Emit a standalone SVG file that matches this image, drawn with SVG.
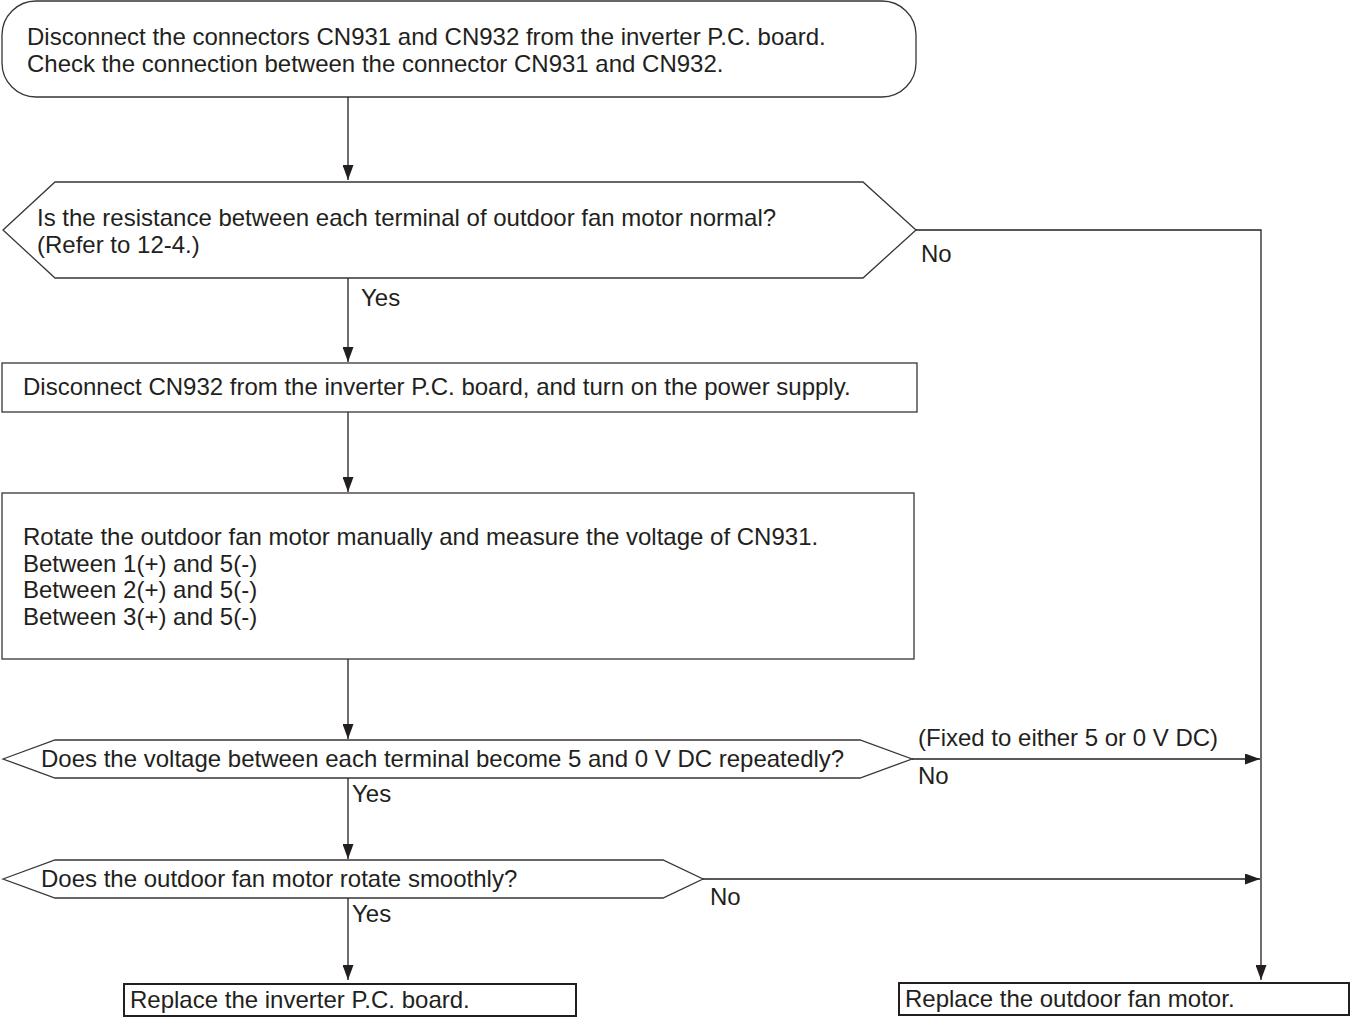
<svg xmlns="http://www.w3.org/2000/svg" width="1362" height="1027" viewBox="0 0 1362 1027">
<style>
  .bg{fill:#ffffff}
  .shape{fill:#ffffff;stroke:#3a3536;stroke-width:1.3}
  .end{fill:#ffffff;stroke:#231f20;stroke-width:2}
  .line{fill:none;stroke:#231f20;stroke-width:1.3}
  text{font-family:"Liberation Sans",Arial,sans-serif;font-size:24px;fill:#231f20}
</style>
<defs>
  <marker id="arr" markerUnits="userSpaceOnUse" markerWidth="15" markerHeight="11" refX="15" refY="5.5" orient="auto">
    <path d="M0,0 L15,5.5 L0,11 Z" fill="#231f20"/>
  </marker>
</defs>
<rect class="bg" x="0" y="0" width="1362" height="1027"/>

<g id="start">
  <rect class="shape" x="2" y="1" width="914" height="96" rx="34" ry="34"/>
  <text x="27" y="45">Disconnect the connectors CN931 and CN932 from the inverter P.C. board.</text>
  <text x="27" y="72">Check the connection between the connector CN931 and CN932.</text>
</g>

<g id="q1">
  <polygon class="shape" points="3,230 55,182 863,182 916,230 863,278 55,278"/>
  <text x="37" y="226">Is the resistance between each terminal of outdoor fan motor normal?</text>
  <text x="37" y="253">(Refer to 12-4.)</text>
</g>

<g id="step2">
  <rect class="shape" x="2" y="363" width="915" height="49"/>
  <text x="23" y="395">Disconnect CN932 from the inverter P.C. board, and turn on the power supply.</text>
</g>

<g id="step3">
  <rect class="shape" x="2" y="493" width="912" height="166"/>
  <text x="23" y="545">Rotate the outdoor fan motor manually and measure the voltage of CN931.</text>
  <text x="23" y="571.5">Between 1(+) and 5(-)</text>
  <text x="23" y="598">Between 2(+) and 5(-)</text>
  <text x="23" y="624.5">Between 3(+) and 5(-)</text>
</g>

<g id="q2">
  <polygon class="shape" points="3,759 55,740 860,740 912,759 860,778 55,778"/>
  <text x="41" y="767">Does the voltage between each terminal become 5 and 0 V DC repeatedly?</text>
</g>

<g id="q3">
  <polygon class="shape" points="3,879 55,860 663,860 703,879 663,898 55,898"/>
  <text x="41" y="887">Does the outdoor fan motor rotate smoothly?</text>
</g>

<g id="end-board">
  <rect class="end" x="124" y="984" width="452" height="32"/>
  <text x="130" y="1008">Replace the inverter P.C. board.</text>
</g>

<g id="end-motor">
  <rect class="end" x="899" y="983" width="450" height="32"/>
  <text x="905" y="1007">Replace the outdoor fan motor.</text>
</g>

<g id="connectors">
  <line class="line" x1="348" y1="97" x2="348" y2="180" marker-end="url(#arr)"/>
  <line class="line" x1="348" y1="278" x2="348" y2="362" marker-end="url(#arr)"/>
  <line class="line" x1="348" y1="412" x2="348" y2="492" marker-end="url(#arr)"/>
  <line class="line" x1="348" y1="659" x2="348" y2="739" marker-end="url(#arr)"/>
  <line class="line" x1="348" y1="778" x2="348" y2="859" marker-end="url(#arr)"/>
  <line class="line" x1="348" y1="898" x2="348" y2="980" marker-end="url(#arr)"/>
  <polyline class="line" points="916,230 1261,230 1261,980" marker-end="url(#arr)"/>
  <line class="line" x1="912" y1="759" x2="1260" y2="759" marker-end="url(#arr)"/>
  <line class="line" x1="703" y1="879" x2="1260" y2="879" marker-end="url(#arr)"/>
  <text x="361" y="306">Yes</text>
  <text x="921" y="262">No</text>
  <text x="918" y="746">(Fixed to either 5 or 0 V DC)</text>
  <text x="918" y="784">No</text>
  <text x="352" y="802">Yes</text>
  <text x="352" y="922">Yes</text>
  <text x="710" y="905">No</text>
</g>
</svg>
